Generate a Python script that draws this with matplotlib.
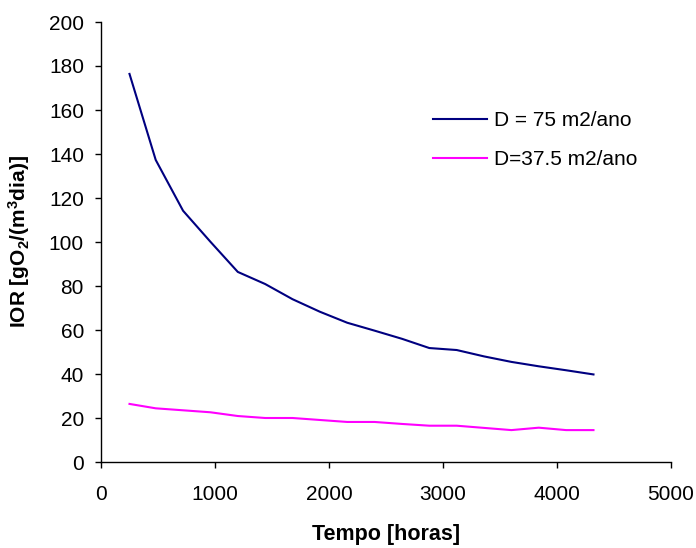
import matplotlib
matplotlib.use("Agg")
import matplotlib.pyplot as plt

# Tempo [horas] and IOR values for the two dispersion coefficients
tempo = [250, 480, 720, 960, 1200, 1440, 1680, 1920, 2160, 2400, 2640, 2880,
         3120, 3360, 3600, 3840, 4080, 4320]
ior_d75 = [176.4, 137.3, 114.2, 100.1, 86.4, 80.9, 74.0, 68.3, 63.3, 59.7,
           56.0, 51.8, 50.9, 48.0, 45.5, 43.5, 41.7, 39.8]
ior_d375 = [26.4, 24.4, 23.5, 22.6, 20.9, 20.0, 20.0, 19.1, 18.2, 18.2,
            17.3, 16.5, 16.5, 15.5, 14.5, 15.6, 14.5, 14.5]

labels = ["D = 75 m2/ano", "D=37.5 m2/ano"]
xticks = [0, 1000, 2000, 3000, 4000, 5000]
yticks = list(range(0, 201, 20))

plt.rcParams["font.family"] = ["Liberation Sans", "DejaVu Sans"]
plt.rcParams["mathtext.default"] = "regular"

W, H = 696, 548
fig = plt.figure(figsize=(W / 100, H / 100), dpi=100)
ax = fig.add_axes([101 / W, 1 - 462 / H, 570 / W, 440 / H])

ax.plot(tempo, ior_d75, color="#000080", lw=1.5, label=labels[0])
ax.plot(tempo, ior_d375, color="#FF00FF", lw=1.5, label=labels[1])

ax.set_xlim(0, 5000)
ax.set_ylim(0, 200)
ax.set_xticks(xticks)
ax.set_yticks(yticks)

for side in ("top", "right"):
    ax.spines[side].set_visible(False)
for side in ("left", "bottom"):
    ax.spines[side].set_linewidth(1.0)

ax.tick_params(axis="both", direction="out", length=4.3, width=1.0, labelsize=15)
ax.tick_params(axis="x", pad=12)
ax.tick_params(axis="y", pad=8)

ax.set_xlabel("Tempo [horas]", fontsize=15.5, fontweight="bold", labelpad=15)
ax.set_ylabel("IOR [gO$_2$/(m$^3$dia)]", fontsize=15, fontweight="bold", labelpad=12)

ax.legend(loc="upper left", bbox_to_anchor=(433 / W, 1 - 111 / H),
          bbox_transform=fig.transFigure, frameon=False, fontsize=15,
          handlelength=2.6, handletextpad=0.35, labelspacing=0.95,
          borderpad=0, borderaxespad=0)

fig.savefig("out.png", dpi=100)
